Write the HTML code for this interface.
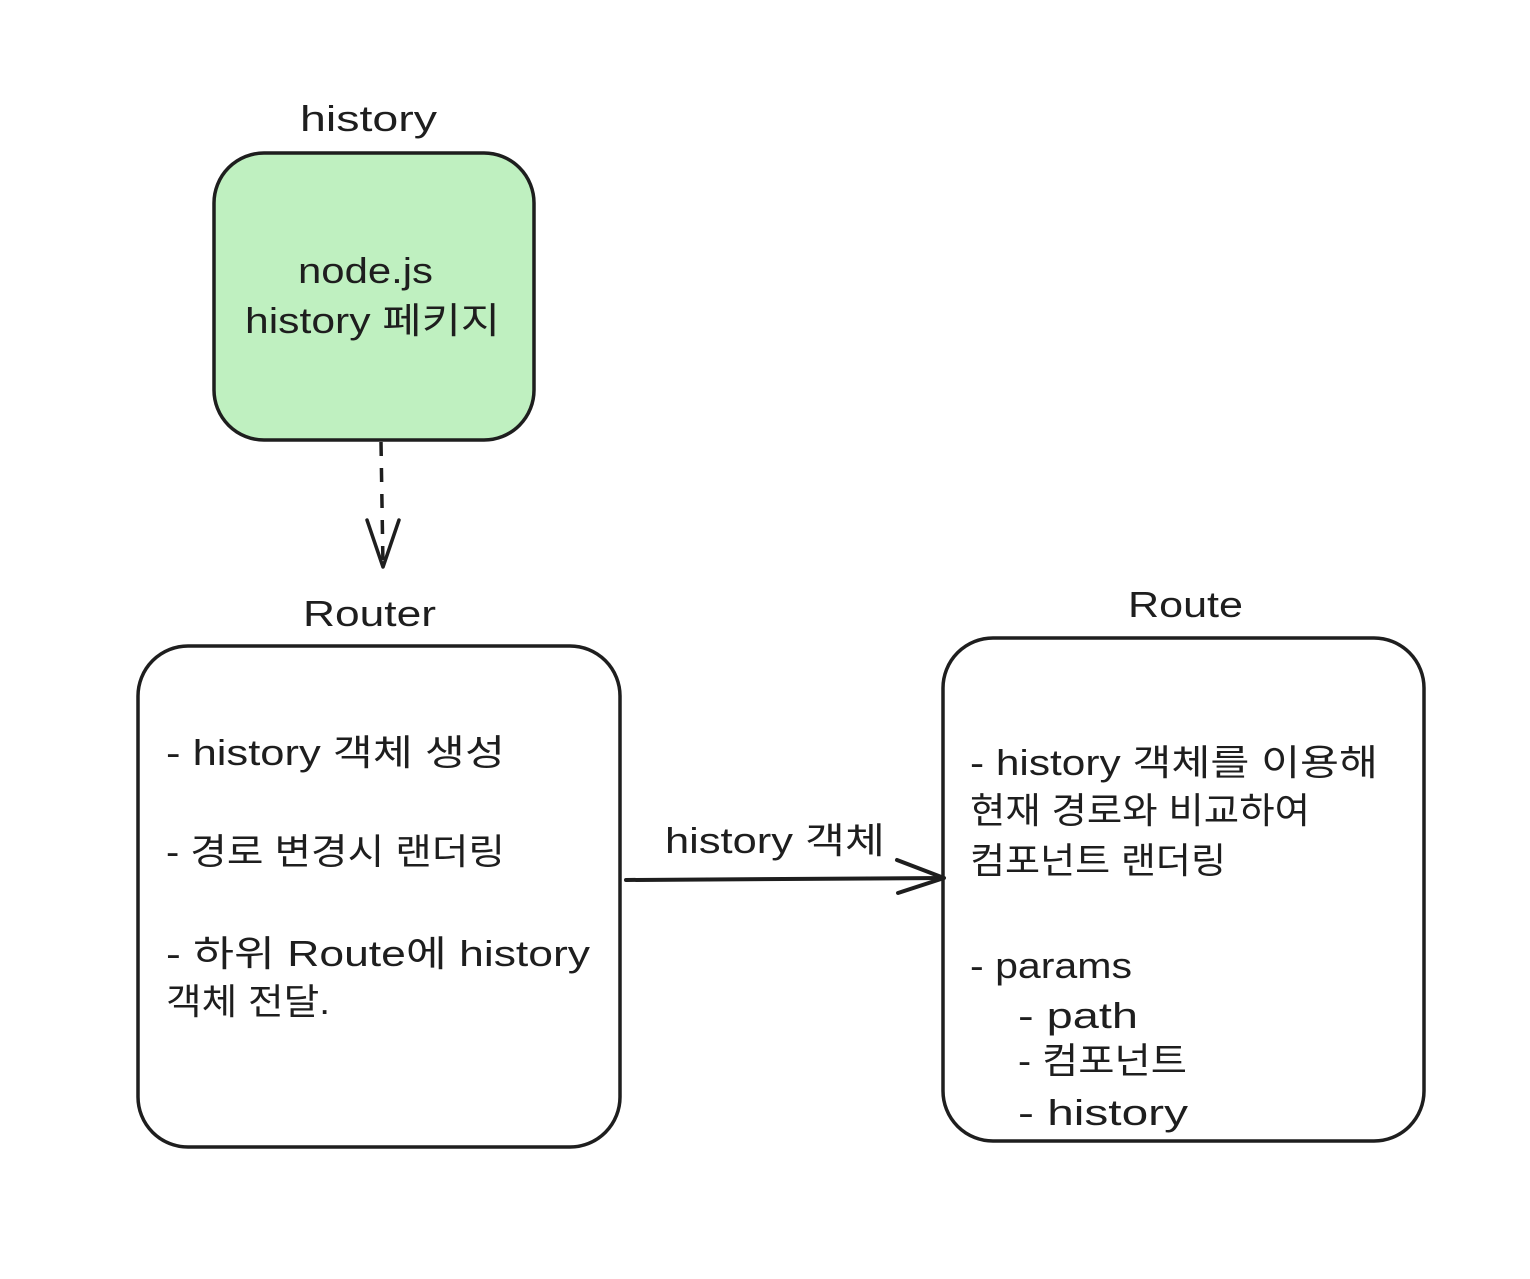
<!DOCTYPE html>
<html><head><meta charset="utf-8"><style>
html,body{margin:0;padding:0;background:#fff;}
svg text{font-family:"Liberation Sans","Noto Sans CJK KR",sans-serif;fill:#1e1e1e;font-size:36px;}
</style></head><body>
<svg width="1530" height="1274" viewBox="0 0 1530 1274" xmlns="http://www.w3.org/2000/svg">
<rect x="0" y="0" width="1530" height="1274" fill="#fff"/>
<rect x="214" y="153" width="320" height="287" rx="50" fill="#bff0c0" stroke="#1e1e1e" stroke-width="3.5"/>
<text x="300" y="131" textLength="137" lengthAdjust="spacingAndGlyphs">history</text>
<text x="298" y="283" textLength="135" lengthAdjust="spacingAndGlyphs">node.js</text>
<text x="245" y="333" textLength="255" lengthAdjust="spacingAndGlyphs">history 페키지</text>
<line x1="381" y1="442" x2="383" y2="566" stroke="#1e1e1e" stroke-width="3.5" stroke-dasharray="14 12"/>
<polyline points="367,520 383,567 399,520" fill="none" stroke="#1e1e1e" stroke-width="3.5" stroke-linecap="round" stroke-linejoin="round"/>
<rect x="138" y="646" width="482" height="501" rx="50" fill="#fff" stroke="#1e1e1e" stroke-width="3.5"/>
<text x="303" y="626" textLength="133" lengthAdjust="spacingAndGlyphs">Router</text>
<text x="166" y="765" textLength="339" lengthAdjust="spacingAndGlyphs">- history 객체 생성</text>
<text x="166" y="864" textLength="339" lengthAdjust="spacingAndGlyphs">- 경로 변경시 랜더링</text>
<text x="166" y="966" textLength="424" lengthAdjust="spacingAndGlyphs">- 하위 Route에 history</text>
<text x="166" y="1014" textLength="164" lengthAdjust="spacingAndGlyphs">객체 전달.</text>
<rect x="943" y="638" width="481" height="503" rx="50" fill="#fff" stroke="#1e1e1e" stroke-width="3.5"/>
<text x="1128" y="617" textLength="115" lengthAdjust="spacingAndGlyphs">Route</text>
<text x="970" y="775" textLength="408" lengthAdjust="spacingAndGlyphs">- history 객체를 이용해</text>
<text x="970" y="823" textLength="340" lengthAdjust="spacingAndGlyphs">현재 경로와 비교하여</text>
<text x="970" y="873" textLength="256" lengthAdjust="spacingAndGlyphs">컴포넌트 랜더링</text>
<text x="970" y="978" textLength="162" lengthAdjust="spacingAndGlyphs">- params</text>
<text x="1018" y="1028" textLength="120" lengthAdjust="spacingAndGlyphs">- path</text>
<text x="1018" y="1073" textLength="169" lengthAdjust="spacingAndGlyphs">- 컴포넌트</text>
<text x="1018" y="1125" textLength="170" lengthAdjust="spacingAndGlyphs">- history</text>
<line x1="626" y1="880" x2="943" y2="878" stroke="#1e1e1e" stroke-width="4" stroke-linecap="round"/>
<polyline points="897,860 944,878 898,893" fill="none" stroke="#1e1e1e" stroke-width="4" stroke-linecap="round" stroke-linejoin="round"/>
<text x="665" y="853" textLength="220" lengthAdjust="spacingAndGlyphs">history 객체</text>
</svg>
</body></html>
